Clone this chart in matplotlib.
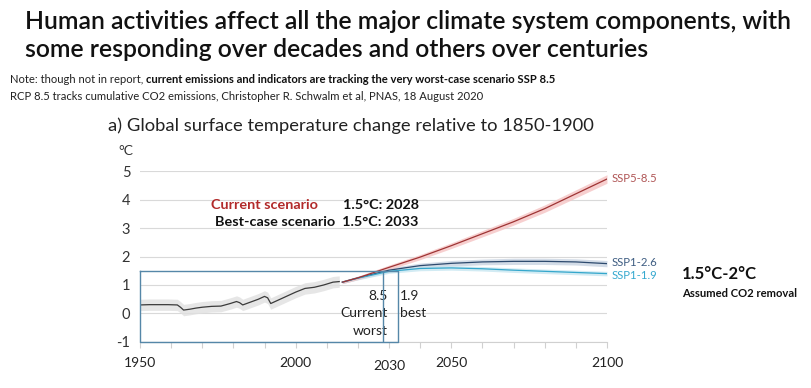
import matplotlib
matplotlib.use('Agg')
import matplotlib.pyplot as plt
import numpy as np

# observed / historical (°C relative to 1850-1900)
hist_years = [1950, 1953, 1956, 1959, 1962, 1963, 1964, 1966, 1968, 1970, 1973, 1976,
              1979, 1981, 1982, 1983, 1985, 1988, 1990, 1991, 1992, 1994, 1997, 2000,
              2003, 2006, 2009, 2012, 2014]
hist_vals = [0.30, 0.31, 0.31, 0.31, 0.30, 0.22, 0.12, 0.15, 0.19, 0.22, 0.25, 0.26,
             0.35, 0.42, 0.38, 0.30, 0.38, 0.50, 0.60, 0.55, 0.35, 0.45, 0.60, 0.75,
             0.88, 0.92, 1.00, 1.10, 1.12]
hist_spread = 0.2

# projections
proj_years = [2015, 2020, 2030, 2040, 2050, 2060, 2070, 2080, 2090, 2100]
ssp585 = [1.10, 1.25, 1.62, 1.98, 2.38, 2.80, 3.22, 3.68, 4.20, 4.72]
ssp126 = [1.10, 1.25, 1.52, 1.68, 1.76, 1.81, 1.83, 1.83, 1.81, 1.75]
ssp119 = [1.10, 1.24, 1.48, 1.58, 1.60, 1.57, 1.52, 1.48, 1.44, 1.40]
spread585 = [0.05, 0.06, 0.08, 0.09, 0.10, 0.11, 0.12, 0.13, 0.14, 0.15]
spread126 = [0.05, 0.06, 0.08, 0.09, 0.10, 0.10, 0.11, 0.11, 0.11, 0.11]
spread119 = [0.05, 0.06, 0.07, 0.08, 0.08, 0.08, 0.08, 0.08, 0.08, 0.08]

year_ticks = [1950, 2000, 2030, 2050, 2100]
temp_ticks = [-1, 0, 1, 2, 3, 4, 5]

plt.rcParams['font.family'] = ['Lato', 'DejaVu Sans']

fig = plt.figure(figsize=(8.12, 3.88), dpi=100)
ax = fig.add_axes([0.1724, 0.1186, 0.5751, 0.4406])

for t in temp_ticks:
    ax.axhline(t, color='#d9d9d9', lw=0.8, zorder=0)

hy = np.array(hist_years); hv = np.array(hist_vals)
ax.fill_between(hy, hv - hist_spread, hv + hist_spread, color='#e0e0e0', alpha=0.8, lw=0, zorder=1)
ax.plot(hy, hv, color='#3a3a3a', lw=0.9, zorder=3)

py = np.array(proj_years)
for vals, spr, line_c, band_c in [(ssp126, spread126, '#2d4a6e', '#c9d4e2'),
                                   (ssp119, spread119, '#35a7cc', '#c7e6f1'),
                                   (ssp585, spread585, '#9e3434', '#f5c4c4')]:
    v = np.array(vals); s = np.array(spr)
    ax.fill_between(py, v - s, v + s, color=band_c, alpha=0.8, lw=0, zorder=2)
    ax.plot(py, v, color=line_c, lw=0.9, zorder=4)

# boxes marking the 1.5°C crossings
box_c = '#5587a8'
ax.plot([1950, 2033, 2033, 1950, 1950], [1.5, 1.5, -1, -1, 1.5], color=box_c, lw=1.0, zorder=5, clip_on=False)
ax.plot([2028, 2028], [-1, 1.5], color=box_c, lw=1.0, zorder=5)

ax.set_xlim(1950, 2100)
ax.set_ylim(-1, 5)
for sp in ['top', 'right', 'left']:
    ax.spines[sp].set_visible(False)
ax.spines['bottom'].set_color('#d0d0d0')
ax.set_xticks(range(1950, 2101, 10))
ax.set_xticklabels([str(y) if y in year_ticks else '' for y in range(1950, 2101, 10)])
ax.tick_params(axis='x', length=4, color='#d0d0d0', labelsize=10, labelcolor='#222222', pad=7)
for lab in ax.get_xticklabels():
    if lab.get_text() == '2030':
        lab.set_y(-0.015)
ax.set_yticks(temp_ticks)
ax.set_yticklabels([str(t) for t in temp_ticks])
ax.tick_params(axis='y', length=0, labelsize=10.5, labelcolor='#333333', pad=7)

ax.text(1943, 5.7, '°C', fontsize=10, color='#333333', ha='left', va='center')

ax.text(2029.5, 0.62, '8.5', fontsize=10, ha='right', va='center', color='#222222')
ax.text(2029.5, 0.0, 'Current', fontsize=10, ha='right', va='center', color='#222222')
ax.text(2029.5, -0.62, 'worst', fontsize=10, ha='right', va='center', color='#222222')
ax.text(2033.5, 0.62, '1.9', fontsize=10, ha='left', va='center', color='#222222')
ax.text(2033.5, 0.0, 'best', fontsize=10, ha='left', va='center', color='#222222')

ax.text(2007, 3.8, 'Current scenario', fontsize=10.4, fontweight='bold', color='#b22a2a', ha='right', va='center')
ax.text(2039.5, 3.8, '1.5°C: 2028', fontsize=10.4, fontweight='bold', color='#111111', ha='right', va='center')
ax.text(2039.5, 3.2, 'Best-case scenario  1.5°C: 2033', fontsize=10.4, fontweight='bold', color='#111111', ha='right', va='center')

ax.text(2101.5, 4.73, 'SSP5-8.5', fontsize=8.2, color='#b05656', ha='left', va='center', clip_on=False)
ax.text(2101.5, 1.78, 'SSP1-2.6', fontsize=8.2, color='#3e5d82', ha='left', va='center', clip_on=False)
ax.text(2101.5, 1.33, 'SSP1-1.9', fontsize=8.2, color='#36a9cf', ha='left', va='center', clip_on=False)

fig.text(0.840, 0.294, '1.5°C-2°C', fontsize=12, fontweight='bold', color='#111111', va='center')
fig.text(0.840, 0.244, 'Assumed CO2 removal', fontsize=8.1, fontweight='bold', color='#111111', va='center')

fig.text(0.133, 0.677, 'a) Global surface temperature change relative to 1850-1900', fontsize=13.2,
         color='#222222', va='center')

fig.text(0.031, 0.945, 'Human activities affect all the major climate system components, with',
         fontsize=17.8, fontweight='semibold', color='#111111', va='center')
fig.text(0.031, 0.872, 'some responding over decades and others over centuries',
         fontsize=17.8, fontweight='semibold', color='#111111', va='center')

t1 = fig.text(0.012, 0.786, 'Note: though not in report, ', fontsize=8.1, color='#222222', va='baseline')
fig.add_artist(plt.Annotation('current emissions and indicators are tracking the very worst-case scenario SSP 8.5',
                              xy=(1, 0), xycoords=t1, va='bottom', fontsize=8.1,
                              fontweight='bold', color='#111111'))
fig.text(0.012, 0.742, 'RCP 8.5 tracks cumulative CO2 emissions, Christopher R. Schwalm et al, PNAS, 18 August 2020',
         fontsize=8.1, color='#222222', va='baseline')

fig.savefig('out.png', dpi=100)
